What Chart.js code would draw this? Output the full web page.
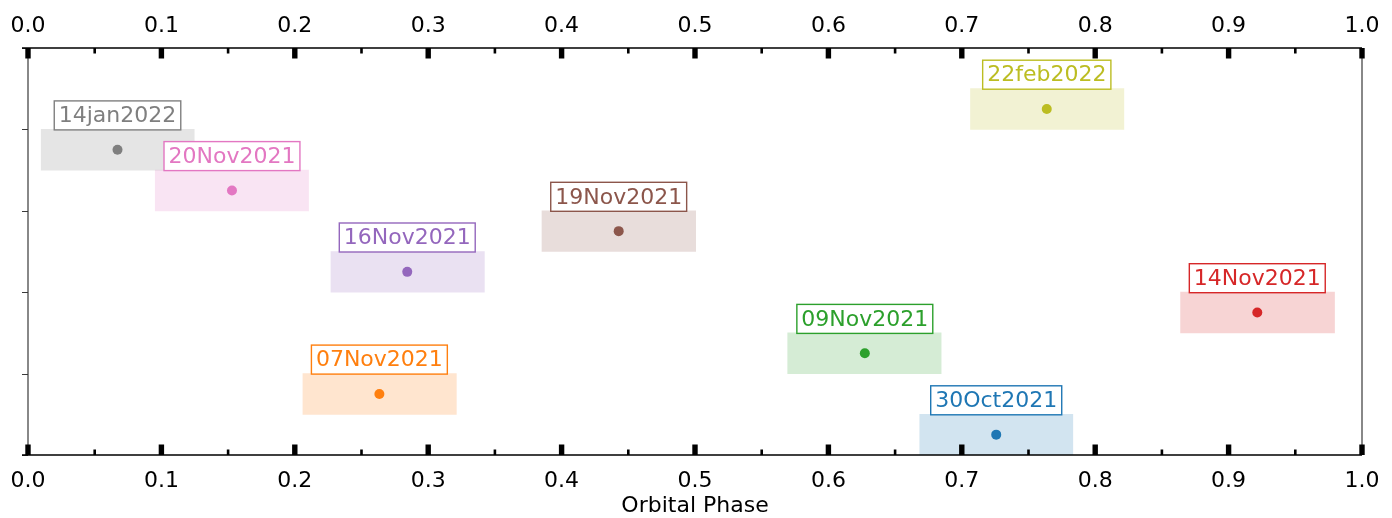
<!DOCTYPE html>
<html>
<head>
<meta charset="utf-8">
<title>Orbital Phase coverage</title>
<script src="https://cdn.jsdelivr.net/npm/chart.js@4.4.1/dist/chart.umd.min.js"></script>
<style>
  html, body { margin: 0; padding: 0; background: #ffffff; }
  canvas { display: block; }
</style>
</head>
<body>
<canvas id="phaseChart" width="1392" height="518"></canvas>
<script>
// Observing nights, one row each (bottom to top)
const nights = ['30Oct2021', '07Nov2021', '09Nov2021', '14Nov2021', '16Nov2021',
                '19Nov2021', '20Nov2021', '14jan2022', '22feb2022'];
const rows = [0, 1, 2, 3, 4, 5, 6, 7, 8];
// Mid-observation phase and the phase span covered by each night
const midPhase   = [0.7258, 0.2634, 0.6273, 0.9215, 0.2843, 0.4428, 0.1529, 0.0671, 0.7637];
const phaseStart = [0.6685, 0.2061, 0.5695, 0.8640, 0.2271, 0.3853, 0.0954, 0.0099, 0.7065];
const phaseEnd   = [0.7832, 0.3211, 0.6845, 0.9794, 0.3421, 0.5005, 0.2103, 0.1246, 0.8215];
const nightColors = ['#1f77b4', '#ff7f0e', '#2ca02c', '#d62728', '#9467bd',
                     '#8c564b', '#e377c2', '#7f7f7f', '#bcbd22'];
const phaseTicks = [0, 0.1, 0.2, 0.3, 0.4, 0.5, 0.6, 0.7, 0.8, 0.9, 1.0];
const minorTicks = [0.05, 0.15, 0.25, 0.35, 0.45, 0.55, 0.65, 0.75, 0.85, 0.95];
const rowTicks = [-0.5, 1.5, 3.5, 5.5, 7.5, 9.5];

const FONT = 'DejaVu Sans';
const FONT_SIZE = 22;

function withAlpha(hex, a) {
  const n = parseInt(hex.slice(1), 16);
  return `rgba(${(n >> 16) & 255}, ${(n >> 8) & 255}, ${n & 255}, ${a})`;
}

// Axis frame, inward phase ticks, row ticks and date labels
const framePlugin = {
  id: 'frame',
  afterDatasetsDraw(chart) {
    const ctx = chart.ctx;
    const xs = chart.scales.x;
    const ys = chart.scales.y;
    const { left, right, top, bottom } = chart.chartArea;
    ctx.save();

    // left / right spines
    ctx.strokeStyle = '#3a3a3a';
    ctx.lineWidth = 1.2;
    ctx.beginPath();
    ctx.moveTo(left, top); ctx.lineTo(left, bottom);
    ctx.moveTo(right, top); ctx.lineTo(right, bottom);
    ctx.stroke();

    // row ticks on the left, pointing out
    ctx.lineWidth = 1;
    ctx.beginPath();
    rowTicks.forEach(v => {
      const py = Math.round(ys.getPixelForValue(v)) + 0.5;
      ctx.moveTo(left - 6, py); ctx.lineTo(left, py);
    });
    ctx.stroke();

    // top / bottom spines
    ctx.strokeStyle = '#000000';
    ctx.lineWidth = 1.6;
    ctx.beginPath();
    ctx.moveTo(left - 6, top); ctx.lineTo(right, top);
    ctx.moveTo(left - 6, bottom); ctx.lineTo(right, bottom);
    ctx.stroke();

    // phase ticks pointing into the plot
    ctx.fillStyle = '#000000';
    phaseTicks.forEach(v => {
      const px = xs.getPixelForValue(v);
      ctx.fillRect(px - 2.7, top, 5.4, 10.5);
      ctx.fillRect(px - 2.7, bottom - 10.5, 5.4, 10.5);
    });
    minorTicks.forEach(v => {
      const px = xs.getPixelForValue(v);
      ctx.fillRect(px - 1.3, top, 2.6, 5.5);
      ctx.fillRect(px - 1.3, bottom - 5.5, 2.6, 5.5);
    });

    // date labels above each span
    ctx.font = `${FONT_SIZE}px "${FONT}"`;
    ctx.textAlign = 'center';
    ctx.textBaseline = 'middle';
    nights.forEach((name, i) => {
      const cx = xs.getPixelForValue(midPhase[i]);
      const barTop = ys.getPixelForValue(rows[i] + 0.5);
      const w = ctx.measureText(name).width + 9;
      const h = 29;
      const y0 = barTop + 0.5 - h;
      ctx.fillStyle = '#ffffff';
      ctx.fillRect(cx - w / 2, y0, w, h);
      ctx.strokeStyle = nightColors[i];
      ctx.lineWidth = 1.4;
      ctx.strokeRect(cx - w / 2, y0, w, h);
      ctx.fillStyle = nightColors[i];
      ctx.fillText(name, cx, y0 + h / 2 + 1);
    });

    ctx.restore();
  }
};

const phaseAxis = (position, extra) => Object.assign({
  type: 'linear',
  position: position,
  min: 0,
  max: 1,
  offset: false,
  grid: { display: false, drawTicks: false },
  border: { display: false },
  ticks: {
    stepSize: 0.1,
    color: '#000000',
    font: { family: FONT, size: FONT_SIZE },
    maxRotation: 0,
    autoSkip: false,
    callback: v => Number(v).toFixed(1)
  }
}, extra);

// fixed band heights; end labels may overhang the frame
const fitPhaseAxis = h => s => {
  s.height = h;
  s.paddingLeft = 0;
  s.paddingRight = 0;
};

new Chart(document.getElementById('phaseChart'), {
  type: 'bar',
  data: {
    datasets: [
      {
        type: 'bar',
        label: 'coverage',
        data: rows.map((r, i) => ({ x: [phaseStart[i], phaseEnd[i]], y: r })),
        backgroundColor: nightColors.map(c => withAlpha(c, 0.2)),
        borderWidth: 0,
        barPercentage: 1,
        categoryPercentage: 1,
        xAxisID: 'x',
        yAxisID: 'y',
        order: 2
      },
      {
        type: 'scatter',
        label: 'mid phase',
        data: rows.map((r, i) => ({ x: midPhase[i], y: r })),
        pointRadius: 5,
        pointBackgroundColor: nightColors,
        pointBorderWidth: 0,
        xAxisID: 'x',
        yAxisID: 'y',
        order: 1
      }
    ]
  },
  options: {
    indexAxis: 'y',
    responsive: false,
    animation: false,
    events: [],
    layout: { padding: { left: 0, right: 30, top: 0, bottom: 0 } },
    plugins: { legend: { display: false }, tooltip: { enabled: false } },
    scales: {
      x: phaseAxis('bottom', {
        title: {
          display: true,
          text: 'Orbital Phase',
          color: '#000000',
          font: { family: FONT, size: FONT_SIZE },
          padding: { top: 0, bottom: -1 }
        },
        afterFit: fitPhaseAxis(63),
        ticks: Object.assign(phaseAxis('bottom').ticks, { padding: 13 })
      }),
      x2: phaseAxis('top', {
        afterFit: fitPhaseAxis(48),
        ticks: Object.assign(phaseAxis('top').ticks, { padding: 9 })
      }),
      y: {
        type: 'linear',
        position: 'left',
        min: -0.5,
        max: 9.5,
        offset: false,
        grid: { display: false, drawTicks: false, offset: false },
        border: { display: false },
        ticks: { display: false },
        afterBuildTicks: s => { s.ticks = rowTicks.map(v => ({ value: v })); },
        afterFit: s => { s.width = 28; }
      }
    }
  },
  plugins: [framePlugin]
});
</script>
</body>
</html>
